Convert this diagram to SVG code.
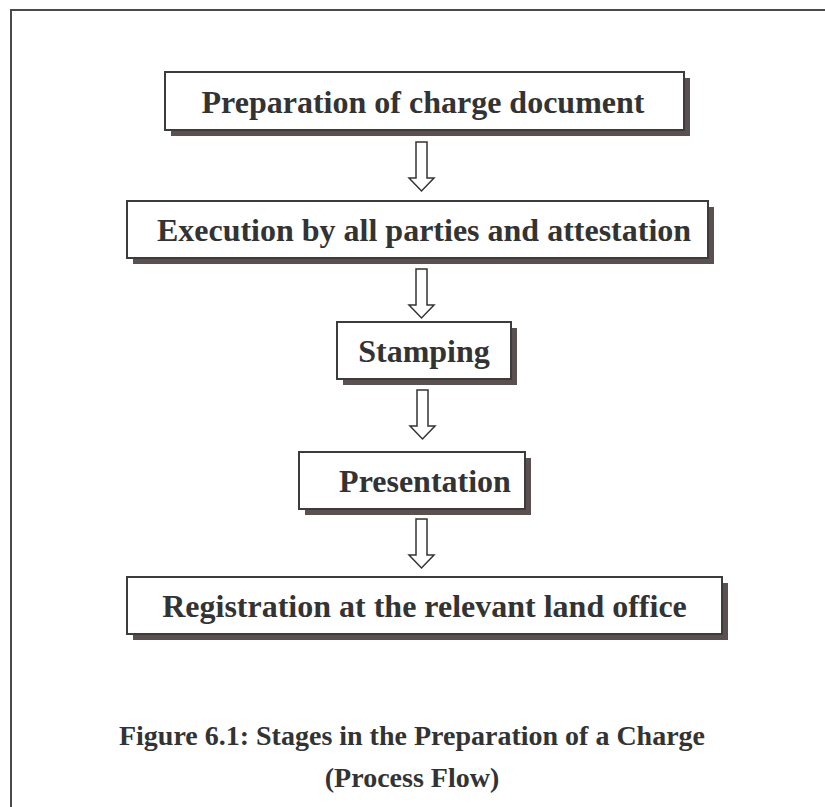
<svg xmlns="http://www.w3.org/2000/svg" width="825" height="807" viewBox="0 0 825 807">
  <style>
    .frame { fill: none; stroke: #4a4a4a; stroke-width: 2; }
    .shadow { fill: #5a5050; }
    .box { fill: #ffffff; stroke: #3c3c3c; stroke-width: 2; }
    .label { font-family: "Liberation Serif", "Times New Roman", serif; font-weight: bold; font-size: 32px; fill: #333333; text-anchor: middle; }
    .caption { font-family: "Liberation Serif", "Times New Roman", serif; font-weight: bold; font-size: 28px; fill: #333333; text-anchor: middle; }
    .arrow { fill: #ffffff; stroke: #333333; stroke-width: 1.5; stroke-linejoin: miter; }
  </style>
  <defs>
    <!-- hollow block arrow pointing down, 49px tall, origin at shaft top centre -->
    <path id="downArrow" d="M -5.5 0 L 5.5 0 L 5.5 36 L 12.5 36 L 0 49 L -12.5 36 L -5.5 36 Z"/>
  </defs>

  <rect width="825" height="807" fill="#ffffff"/>
  <rect class="frame" x="11" y="10" width="840" height="820"/>

  <g id="connectors">
    <use href="#downArrow" class="arrow" x="421.5" y="142"/>
    <use href="#downArrow" class="arrow" x="421.5" y="269"/>
    <use href="#downArrow" class="arrow" x="422.5" y="390"/>
    <use href="#downArrow" class="arrow" x="421.5" y="519"/>
  </g>

  <g id="preparation">
    <rect class="shadow" x="171" y="78" width="519" height="58"/>
    <rect class="box" x="165" y="72" width="519" height="58"/>
    <text class="label" x="423" y="113">Preparation of charge document</text>
  </g>

  <g id="execution">
    <rect class="shadow" x="133" y="207" width="581" height="57"/>
    <rect class="box" x="127" y="201" width="581" height="57"/>
    <text class="label" x="424" y="241">Execution by all parties and attestation</text>
  </g>

  <g id="stamping">
    <rect class="shadow" x="343" y="328" width="174" height="57"/>
    <rect class="box" x="337" y="322" width="174" height="57"/>
    <text class="label" x="424" y="362">Stamping</text>
  </g>

  <g id="presentation">
    <rect class="shadow" x="305" y="458" width="226" height="57"/>
    <rect class="box" x="299" y="452" width="226" height="57"/>
    <text class="label" x="425" y="492">Presentation</text>
  </g>

  <g id="registration">
    <rect class="shadow" x="133" y="583" width="595" height="57"/>
    <rect class="box" x="127" y="577" width="595" height="57"/>
    <text class="label" x="424.5" y="617">Registration at the relevant land office</text>
  </g>

  <g id="caption">
    <text class="caption" x="412" y="745">Figure 6.1: Stages in the Preparation of a Charge</text>
    <text class="caption" x="412" y="787">(Process Flow)</text>
  </g>
</svg>
